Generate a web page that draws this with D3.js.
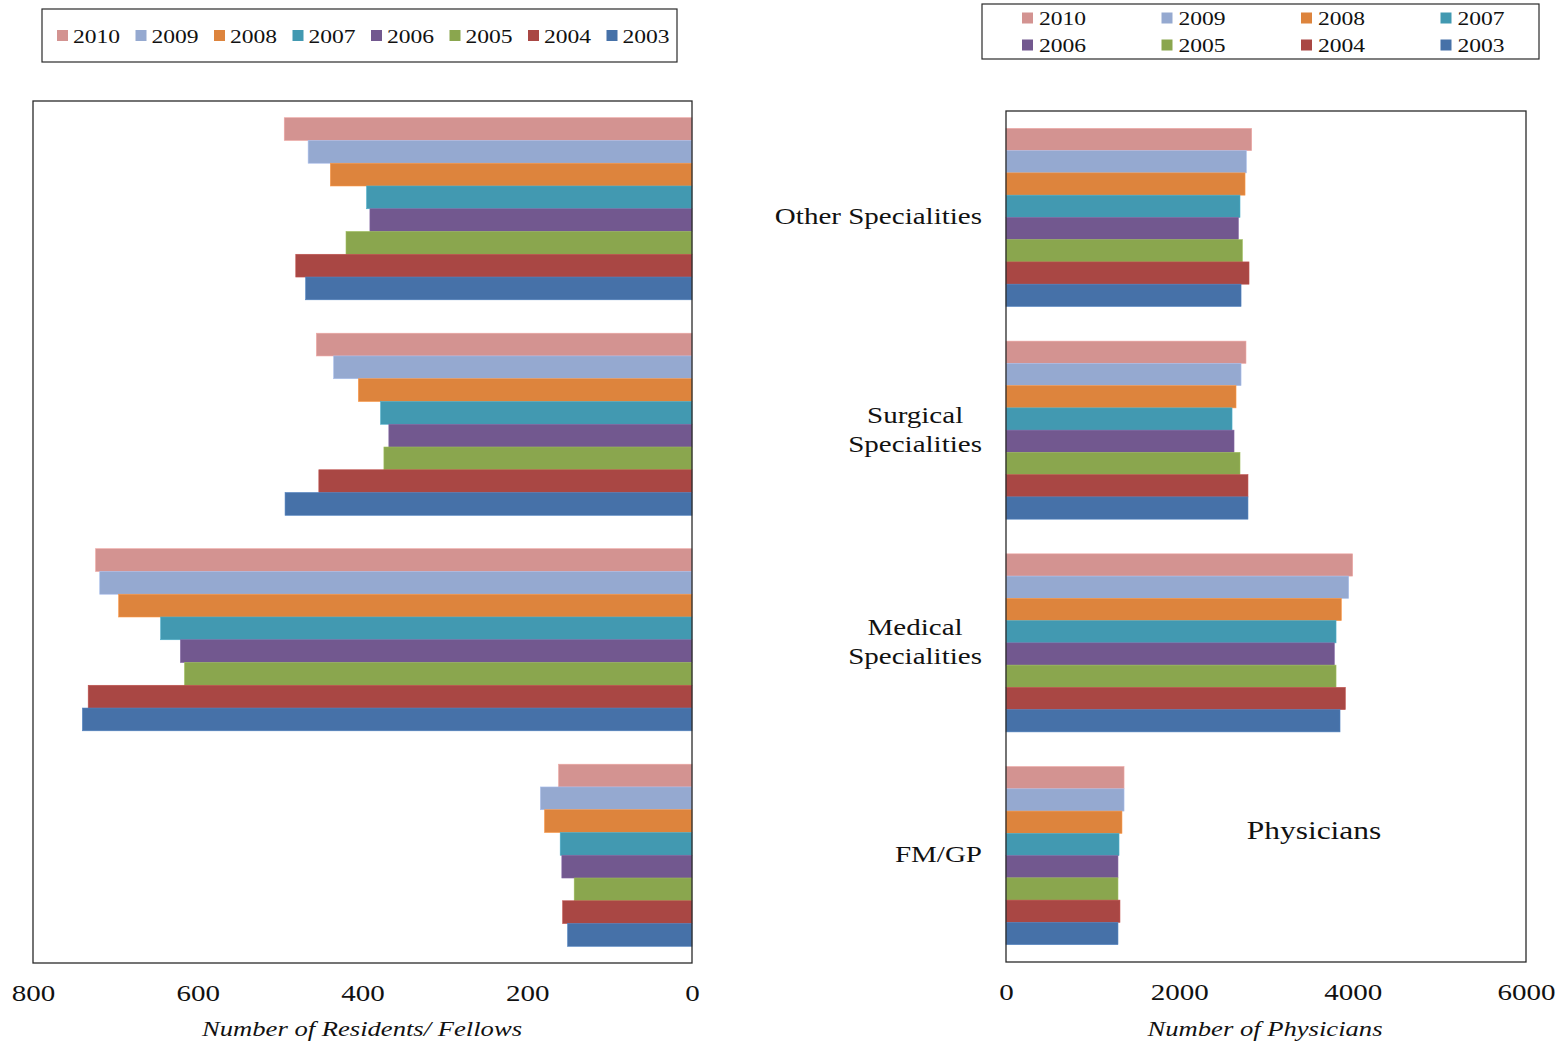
<!DOCTYPE html>
<html>
<head>
<meta charset="utf-8">
<script src="https://cdn.jsdelivr.net/npm/d3@7"></script>
<style>
  html, body { margin: 0; padding: 0; background: #fff; }
  svg { display: block; }
  text { font-family: "Liberation Serif", "Times New Roman", serif; fill: #111; }
</style>
</head>
<body>
<svg id="chart" width="1562" height="1043"></svg>
<script>
// Specialty groups, top to bottom
const categories = ["Other Specialities", "Surgical Specialities", "Medical Specialities", "FM/GP"];
// Years, drawn top to bottom inside each group
const years = ["2010", "2009", "2008", "2007", "2006", "2005", "2004", "2003"];
const yearColors = ["#d39391", "#95a9d0", "#dd843d", "#4299b1", "#72588f", "#8aa64e", "#a94744", "#4671a8"];

// Residents / fellows per group, in the order of `years`
const residentsOther    = [495, 466, 439, 395, 391, 420, 481, 469];
const residentsSurgical = [456, 435, 405, 378, 368, 374, 453, 494];
const residentsMedical  = [724, 719, 696, 645, 621, 616, 733, 740];
const residentsFMGP     = [162, 184, 179, 160, 158, 143, 157, 151];

// Practising physicians per group, in the order of `years`
const physiciansOther    = [2835, 2773, 2758, 2700, 2681, 2727, 2804, 2712];
const physiciansSurgical = [2769, 2712, 2654, 2608, 2631, 2700, 2792, 2792];
const physiciansMedical  = [4000, 3954, 3869, 3808, 3788, 3808, 3915, 3854];
const physiciansFMGP     = [1362, 1362, 1338, 1304, 1292, 1292, 1315, 1292];

const residentTicks = [800, 600, 400, 200, 0];
const physicianTicks = [0, 2000, 4000, 6000];

// Category labels as drawn, split over lines
const categoryLines = [["Other Specialities"], ["Surgical", "Specialities"], ["Medical", "Specialities"], ["FM/GP"]];

const residents = [residentsOther, residentsSurgical, residentsMedical, residentsFMGP];
const physicians = [physiciansOther, physiciansSurgical, physiciansMedical, physiciansFMGP];

const svg = d3.select("#chart");
const WIDE = 1.21; // horizontal stretch of the serif lettering

// text placed at (x, y) and widened around its anchor
function label(parent, x, y, str, size, anchor, italic) {
  return parent.append("text")
    .attr("transform", `translate(${x},${y}) scale(${WIDE},1)`)
    .attr("dy", "0.35em")
    .attr("text-anchor", anchor)
    .style("font-size", size + "px")
    .style("font-style", italic ? "italic" : "normal")
    .text(str);
}

function panel(opts) {
  const { x0, x1, y0, y1, domain, reversed, data, ticks, title, titleX } = opts;
  const x = d3.scaleLinear().domain(domain).range(reversed ? [x1, x0] : [x0, x1]);
  const y = d3.scaleBand().domain(categories).range([y0, y1])
    .paddingInner(opts.padIn).paddingOuter(opts.padOut);
  const yy = d3.scaleBand().domain(years).range([0, y.bandwidth()]);
  const color = d3.scaleOrdinal().domain(years).range(yearColors);

  const g = svg.append("g");
  const groups = g.selectAll("g.grp").data(categories).join("g")
    .attr("class", "grp")
    .attr("transform", c => `translate(0,${y(c)})`);

  groups.each(function (c, ci) {
    const rows = years.map((yr, i) => ({ year: yr, value: data[ci][i] }));
    d3.select(this).selectAll("rect").data(rows).join("rect")
      .attr("x", d => Math.min(x(0), x(d.value)))
      .attr("width", d => Math.abs(x(d.value) - x(0)))
      .attr("y", d => yy(d.year))
      .attr("height", yy.bandwidth())
      .attr("fill", d => color(d.year))
      .attr("stroke", d => d3.color(color(d.year)).brighter(0.35))
      .attr("stroke-width", 0.6);
  });

  // plot frame
  g.append("rect")
    .attr("x", x0).attr("y", y0)
    .attr("width", x1 - x0).attr("height", y1 - y0)
    .attr("fill", "none").attr("stroke", "#2a2a2a").attr("stroke-width", 1.3);

  // value axis
  const axis = d3.axisBottom(x).tickValues(ticks).tickSize(0).tickPadding(0).tickFormat(d3.format("d"));
  const ax = g.append("g").attr("transform", `translate(0,${y1 + 30})`).call(axis);
  ax.select(".domain").remove();
  ax.selectAll("text")
    .attr("dy", "0.35em").attr("y", 0)
    .attr("transform", `scale(${WIDE},1)`)
    .style("font-family", "'Liberation Serif', serif")
    .style("font-size", "24px").attr("fill", "#111");

  label(g, titleX, 1028, title, 22, "middle", true);

  return { x, y };
}

// Left panel: residents / fellows, bars grow leftwards
panel({
  x0: 33, x1: 692, y0: 101, y1: 963,
  domain: [0, 800], reversed: true,
  data: residents, ticks: residentTicks,
  padIn: 0.155, padOut: 0.0775,
  title: "Number of Residents/ Fellows", titleX: 362
});

// Right panel: physicians
const right = panel({
  x0: 1006, x1: 1526, y0: 111, y1: 962,
  domain: [0, 6000], reversed: false,
  data: physicians, ticks: physicianTicks,
  padIn: 0.163, padOut: 0.0817,
  title: "Number of Physicians", titleX: 1265
});

// Category labels: each block of lines is centred on itself, right edge at x = 982
const lineGap = 29;
categories.forEach((c, ci) => {
  const lines = categoryLines[ci];
  const cy = right.y(c) + right.y.bandwidth() / 2 - 1.5;
  const texts = lines.map((ln, i) =>
    label(svg, 0, cy + (i - (lines.length - 1) / 2) * lineGap, ln, 24, "middle", false));
  const blockW = d3.max(texts, t => t.node().getComputedTextLength() * WIDE);
  texts.forEach((t, i) => {
    const ly = cy + (i - (lines.length - 1) / 2) * lineGap;
    t.attr("transform", `translate(${982 - blockW / 2},${ly}) scale(${WIDE},1)`);
  });
});

label(svg, 1314, 830, "Physicians", 26, "middle", false);

// Legend, single row (left panel)
const legL = svg.append("g");
legL.append("rect").attr("x", 42).attr("y", 9).attr("width", 635).attr("height", 53)
  .attr("fill", "#fff").attr("stroke", "#2a2a2a").attr("stroke-width", 1.2);
years.forEach((yr, i) => {
  const lx = 57 + i * 78.5;
  legL.append("rect").attr("x", lx).attr("y", 30).attr("width", 11).attr("height", 11)
    .attr("fill", yearColors[i]);
  label(legL, lx + 16, 36, yr, 19.5, "start", false);
});

// Legend, two rows (right panel)
const legR = svg.append("g");
legR.append("rect").attr("x", 982).attr("y", 4).attr("width", 557).attr("height", 55)
  .attr("fill", "#fff").attr("stroke", "#2a2a2a").attr("stroke-width", 1.2);
years.forEach((yr, i) => {
  const col = i % 4, row = Math.floor(i / 4);
  const lx = 1022 + col * 139.5;
  const ly = 18 + row * 27;
  legR.append("rect").attr("x", lx).attr("y", ly - 5.5).attr("width", 11).attr("height", 11)
    .attr("fill", yearColors[i]);
  label(legR, lx + 17, ly, yr, 19.5, "start", false);
});
</script>
</body>
</html>
